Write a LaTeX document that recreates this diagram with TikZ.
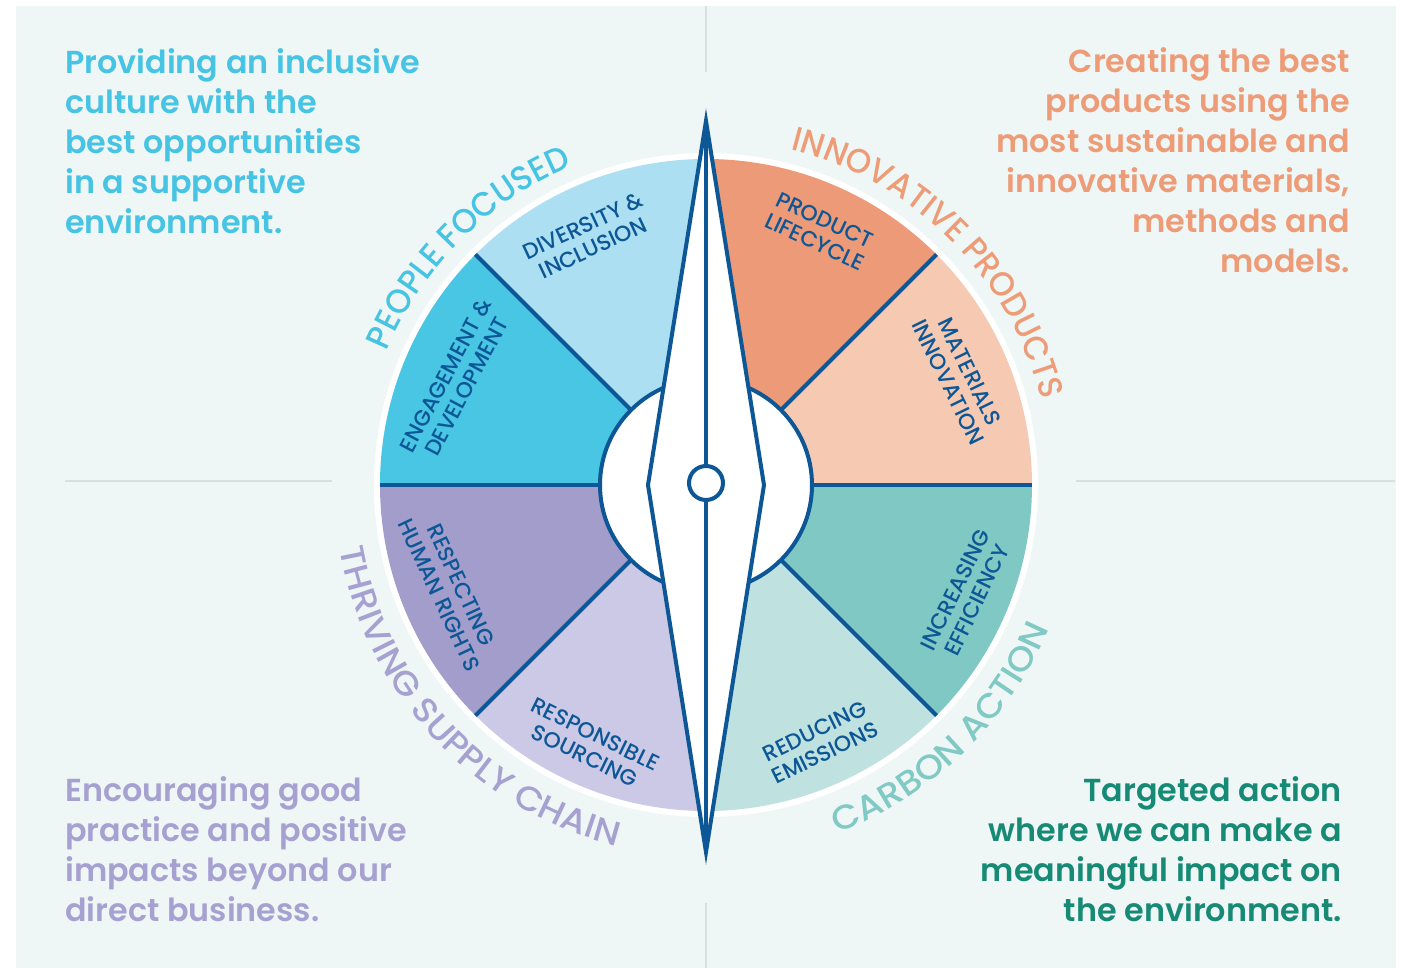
\documentclass[tikz,border=0pt]{standalone}
\usepackage{fontspec}
\setmainfont{Poppins}
\newfontfamily\popsb{Poppins SemiBold}
\newfontfamily\popmd{Poppins Medium}
\newfontfamily\poparc{Poppins Medium}[FakeStretch=0.95]
\newfontfamily\poparcwide{Poppins Medium}[FakeStretch=1.07]
\usetikzlibrary{decorations.text}
\definecolor{mint}{HTML}{EFF7F6}
\definecolor{greyline}{HTML}{D6E0DF}
\definecolor{dblue}{HTML}{0D5796}
\definecolor{pblue}{HTML}{47C4E3}
\definecolor{psalmon}{HTML}{EE9C78}
\definecolor{ppurple}{HTML}{A7A1D2}
\definecolor{pgreen}{HTML}{168A74}
\definecolor{pteal}{HTML}{80C9C4}
\definecolor{sDiv}{HTML}{ABDFF1}
\definecolor{sEng}{HTML}{48C6E4}
\definecolor{sProd}{HTML}{EC9A77}
\definecolor{sMat}{HTML}{F6C9B2}
\definecolor{sInc}{HTML}{80C8C4}
\definecolor{sRed}{HTML}{BFE1DF}
\definecolor{sRes}{HTML}{CCC9E6}
\definecolor{sHum}{HTML}{A39DCC}
\newcommand{\arclabelfont}{\poparc\fontsize{34}{34}\selectfont}
\newcommand{\arclabelfontwide}{\poparcwide\fontsize{34}{34}\selectfont}
\tikzset{
  seglabel/.style={text=dblue, font=\popmd\fontsize{22}{24}\selectfont, align=center, inner sep=0pt},
  para/.style={inner sep=0pt, font=\popsb\fontsize{31.8}{40}\selectfont},
  divider/.style={draw=greyline, line width=1.5pt},
  bluestroke/.style={draw=dblue, line width=4pt},
}
\begin{document}
\begin{tikzpicture}[x=1pt,y=1pt]
\useasboundingbox (-706,-483) rectangle (695,485);
\fill[white] (-706,-483) rectangle (695,485);
\fill[mint] (-690,-483) rectangle (690,479);
% dividers
\draw[divider] (0,479) -- (0,413);
\draw[divider] (0,-418) -- (0,-483);
\draw[divider] (-641,4) -- (-374,4);
\draw[divider] (370,4) -- (689,4);
% wheel
\fill[white] (0,0) circle (332);
\fill[sDiv] (0,0) -- (90:326) arc[start angle=90,end angle=135,radius=326] -- cycle;
\fill[sEng] (0,0) -- (135:326) arc[start angle=135,end angle=180,radius=326] -- cycle;
\fill[sHum] (0,0) -- (180:326) arc[start angle=180,end angle=225,radius=326] -- cycle;
\fill[sRes] (0,0) -- (225:326) arc[start angle=225,end angle=270,radius=326] -- cycle;
\fill[sRed] (0,0) -- (270:326) arc[start angle=270,end angle=315,radius=326] -- cycle;
\fill[sInc] (0,0) -- (315:326) arc[start angle=315,end angle=360,radius=326] -- cycle;
\fill[sMat] (0,0) -- (0:326) arc[start angle=0,end angle=45,radius=326] -- cycle;
\fill[sProd] (0,0) -- (45:326) arc[start angle=45,end angle=90,radius=326] -- cycle;
\foreach \a in {0,45,135,180,225,315} \draw[bluestroke] (0,0) -- (\a:326);
\draw[bluestroke, fill=white] (0,0) circle (106);
% needle
\draw[bluestroke, fill=white, line join=miter] (0,364) -- (58,0) -- (0,-367) -- (-58,0) -- cycle;
\draw[bluestroke] (0,364) -- (0,19);
\draw[bluestroke] (0,-15) -- (0,-367);
\draw[bluestroke, fill=white] (0,2) circle (17);
% segment labels
\node[seglabel, rotate=25] (div) at (-118,248) {DIVERSITY \&\\INCLUSION};
\node[seglabel, rotate=62] (eng) at (-250,104) {ENGAGEMENT \&\\DEVELOPMENT};
\node[seglabel, rotate=-25] (prod) at (114,254) {PRODUCT\\LIFECYCLE};
\node[seglabel, rotate=-64] (mat) at (253,108) {MATERIALS\\INNOVATION};
\node[seglabel, rotate=64] (inc) at (260,-110) {INCREASING\\EFFICIENCY};
\node[seglabel, rotate=26] (red) at (114,-257) {REDUCING\\EMISSIONS};
\node[seglabel, rotate=-26] (res) at (-116,-260) {RESPONSIBLE\\SOURCING};
\node[seglabel, rotate=-65] (hum) at (-256,-105) {RESPECTING\\HUMAN RIGHTS};
% arc labels
\path[decorate, decoration={text along path, text align=center, text color=pblue,
  text={|\arclabelfont|PEOPLE FOCUSED}}] (185:346) arc[start angle=185,end angle=85,radius=346];
\path[decorate, decoration={text along path, text align=center, text color=psalmon,
  text={|\arclabelfont|INNOVATIVE PRODUCTS}}] (100:346) arc[start angle=100,end angle=-10,radius=346];
\path[decorate, decoration={text along path, text align=center, text color=ppurple,
  text={|\arclabelfontwide|THRIVING SUPPLY CHAIN}}] (168:372) arc[start angle=168,end angle=278,radius=372];
\path[decorate, decoration={text along path, text align=center, text color=pteal,
  text={|\arclabelfontwide|CARBON ACTION}}] (264:372) arc[start angle=264,end angle=364,radius=372];
% paragraphs
\node[para, text=pblue, anchor=base west] (tl) at (-641,411) {\parbox[t]{500pt}{\raggedright Providing an inclusive\\culture with the\\best opportunities\\in a supportive\\environment.}};
\node[para, text=psalmon, anchor=base east] (tr) at (644,412) {\parbox[t]{500pt}{\raggedleft Creating the best\\products using the\\most sustainable and\\innovative materials,\\methods and\\models.}};
\node[para, text=ppurple, anchor=base west] (bl) at (-641,-317) {\parbox[t]{500pt}{\raggedright Encouraging good\\practice and positive\\impacts beyond our\\direct business.}};
\node[para, text=pgreen, anchor=base east] (br) at (636,-317) {\parbox[t]{500pt}{\raggedleft Targeted action\\where we can make a\\meaningful impact on\\the environment.}};
\end{tikzpicture}
\end{document}
